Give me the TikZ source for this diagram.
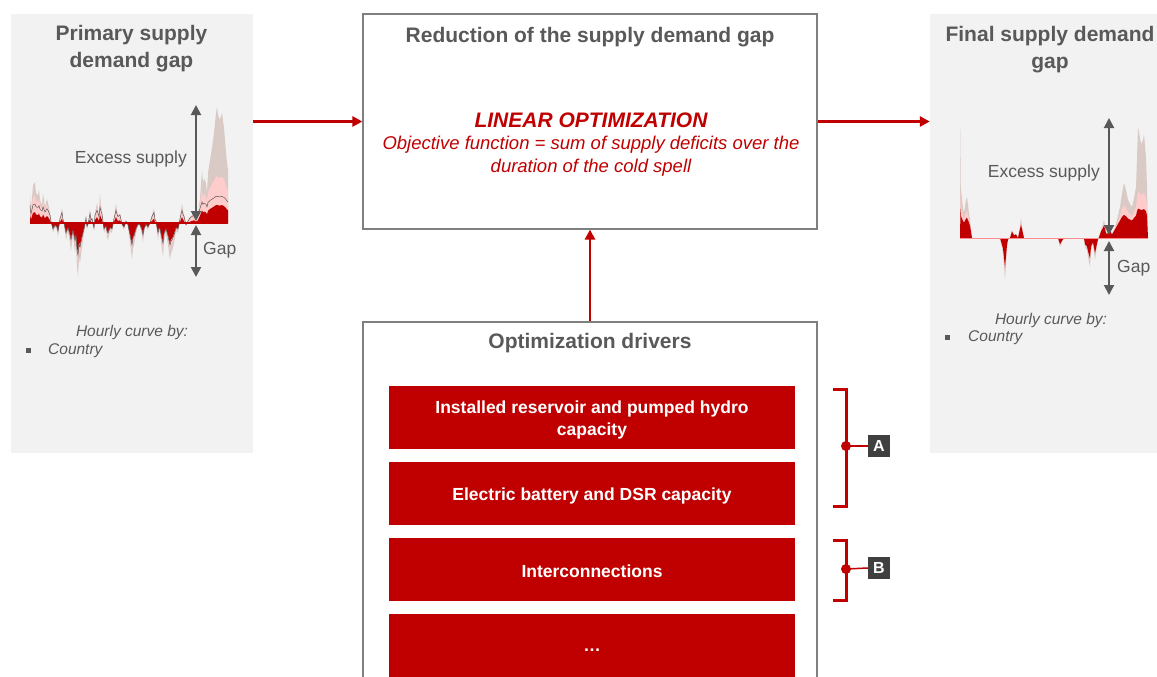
\documentclass[tikz,border=0pt]{standalone}
\usepackage{fontspec}
\setmainfont{Liberation Sans}
\usetikzlibrary{arrows.meta}
\definecolor{dred}{HTML}{C00000}
\definecolor{tgray}{HTML}{595959}
\definecolor{pgray}{HTML}{F2F2F2}
\definecolor{bgray}{HTML}{7F7F7F}
\definecolor{beige}{HTML}{D9CAC6}
\definecolor{lpink}{HTML}{FFCCCC}
\definecolor{lblgray}{HTML}{404040}
\def\leftdata{30/30, 31/12, 33/38, 35/41, 36/30, 38/28, 39/34, 40/23, 42/18, 43/30, 45/16, 47/24, 48/20, 50/10, 51/2, 53/-10, 55/-4, 57/-7, 58/-14, 60/5, 62/15, 63/4, 64/0, 66/-17, 68/-8, 70/-20, 71/-28, 73/-12, 75/-30, 76/-20, 77/-45, 78/-54, 79/-35, 80/-40, 82/-24, 84/-10, 86/6, 87/-6, 88/-2, 90/13, 91/3, 92/5, 94/-8, 95/10, 97/20, 99/8, 100/30, 101/18, 102/12, 104/-10, 106/-5, 107/-14, 108/-17, 110/-8, 112/-10, 114/5, 116/20, 117/12, 118/8, 120/10, 122/-2, 124/-7, 126/2, 128/-3, 129/-12, 130/-20, 132/-37, 133/-25, 134/-22, 136/-10, 138/-2, 140/-3, 142/-12, 143/-20, 144/-10, 146/-2, 148/-7, 150/0, 152/8, 154/15, 155/4, 156/2, 158/-17, 159/-8, 160/-10, 162/-27, 163/-34, 164/-18, 166/-10, 168/-22, 170/-37, 171/-30, 172/-28, 174/-20, 176/-8, 178/-10, 180/5, 182/20, 183/12, 184/8, 186/-3, 188/2, 190/6, 192/8, 194/10, 196/6, 198/10, 200/25, 202/53, 203/40, 204/45, 206/40, 207/30, 208/50, 210/63, 212/75, 214/90, 216/110, 217/116, 218/108, 220/103, 222/110, 224/95, 225/83, 227/60, 228/53}
\def\rightdata{960/0, 960.5/110, 961/48, 963/30, 964/25, 966/38, 967/41, 969/25, 970/18, 972/0, 1000/0, 1001/-5, 1003/-15, 1005/-42, 1007/-10, 1008/-2, 1010/0, 1012/8, 1014/3, 1016/4, 1018/0, 1020/12, 1021/20, 1023/5, 1024/0, 1058/0, 1060/-9, 1062/-4, 1064/0, 1084/0, 1085/-9, 1087/-12, 1088/-19, 1090/-29, 1091/-12, 1093/-6, 1095/-22, 1097/-8, 1098/-2, 1100/4, 1101/8, 1103/14, 1104/18, 1106/6, 1107/4, 1109/10, 1110/8, 1112/4, 1115/11, 1117/18, 1120/31, 1122/45, 1124/55, 1126/48, 1128/38, 1130/34, 1132/31, 1134/40, 1136/51, 1137/80, 1138/111, 1140/100, 1141/94, 1143/98, 1144/104, 1146/80, 1147/51, 1148/0}
\begin{document}
\begin{tikzpicture}[x=1pt,y=-1pt,
  declare function={
    redL(\v)=((\v)<0)*0.55*(\v)+(1-((\v)<0))*(\v)*(\v)*0.6/(8+abs(\v))*45/(45+abs(\v));
    redR(\v)=((\v)<0)*0.7*(\v)+(1-((\v)<0))*(\v)*40/(40+abs(\v));
    pinkf(\v)=((\v)<0)*0.75*(\v)+(1-((\v)<0))*(\v)*80/(80+abs(\v));
    linef(\v)=((\v)<0)*0.6*(\v)+(1-((\v)<0))*(\v)*35/(35+abs(\v));
  },
  panel/.style={fill=pgray, draw=none, inner sep=0pt},
  ttl/.style={text=tgray, font=\fontsize{21}{27}\selectfont\bfseries, align=center, inner sep=0pt},
  frame/.style={draw=bgray, line width=1.2pt, fill=white, inner sep=0pt},
  redbox/.style={fill=dred, draw=none, minimum width=406pt, inner sep=0pt},
  boxtext/.style={text=white, font=\fontsize{17.5}{22}\selectfont\bfseries, align=center, inner sep=0pt, yshift=-2pt},
  rarrow/.style={draw=dred, line width=2.5pt, -{Triangle[length=10pt,width=10pt]}},
  garrow/.style={draw=tgray, line width=2pt, {Triangle[length=10pt,width=10pt]}-{Triangle[length=10pt,width=10pt]}},
  lbl/.style={text=tgray, font=\fontsize{17.5}{21}\selectfont, inner sep=0pt},
  hourly/.style={text=tgray, font=\fontsize{15.5}{19}\selectfont\itshape, inner sep=0pt},
  bul/.style={fill=tgray, minimum size=5pt, inner sep=0pt},
  bracket/.style={draw=dred, line width=3pt},
  letter/.style={fill=lblgray, text=white, font=\fontsize{16}{18}\selectfont\bfseries, minimum width=22pt, minimum height=22pt, inner sep=0pt},
]
\useasboundingbox (0,0) rectangle (1157,677);
\clip (0,0) rectangle (1157,677);

% panels
\node[panel, minimum width=242pt, minimum height=439pt] (left) at (132,233.5) {};
\node[panel, minimum width=230pt, minimum height=439pt] (right) at (1045,233.5) {};
\node[frame, minimum width=454pt, minimum height=215pt] (reduction) at (590,121.5) {};
\node[frame, minimum width=454pt, minimum height=400pt] (drivers) at (590,522) {};

% titles
\node[ttl] (ltitle) at (131.5,48.5) {Primary supply\\demand gap};
\node[ttl] (rtitle) at (1050,50) {Final supply demand\\gap};
\node[ttl] (redtitle) at (590,37) {Reduction of the supply demand gap};
\node[ttl] (drvtitle) at (590,343) {Optimization drivers};

% linear optimization text
\node[text=dred, font=\fontsize{21}{25}\selectfont\bfseries\itshape, inner sep=0pt] (lin) at (591,120) {LINEAR OPTIMIZATION};
\node[text=dred, font=\fontsize{18.5}{23}\selectfont\itshape, align=center, inner sep=0pt] (obj) at (591,156) {Objective function = sum of supply deficits over the\\duration of the cold spell};

% driver boxes
\node[redbox, minimum height=63pt] (d1) at (592,417.5) {};
\node[redbox, minimum height=63pt] (d2) at (592,493.5) {};
\node[redbox, minimum height=63pt] (d3) at (592,569.5) {};
\node[redbox, minimum height=68pt] (d4) at (592,648) {};
\node[boxtext] (t1) at (d1.center) {Installed reservoir and pumped hydro\\capacity};
\node[boxtext] (t2) at (d2.center) {Electric battery and DSR capacity};
\node[boxtext] (t3) at (d3.center) {Interconnections};
\node[boxtext] (t4) at (d4.center) {\dots};

% red arrows
\draw[rarrow] (left.east |- reduction.west) -- (reduction.west);
\draw[rarrow] (reduction.east) -- (right.west |- reduction.east);
\draw[rarrow] (drivers.north) -- (reduction.south);

% brackets
\coordinate (a1) at (833,389);
\coordinate (a2) at (846,389);
\coordinate (a3) at (846,506);
\coordinate (a4) at (833,506);
\coordinate (dotA) at (846,446);
\node[letter] (labA) at (879,446) {A};
\draw[bracket] (a1) -- (a2) -- (a3) -- (a4);
\fill[dred] (dotA) circle (5pt);
\draw[dred, line width=1.5pt] (dotA) -- (labA.west);
\coordinate (b1) at (833,540);
\coordinate (b2) at (846,540);
\coordinate (b3) at (846,600);
\coordinate (b4) at (833,600);
\coordinate (dotB) at (846,569);
\node[letter] (labB) at (879,568) {B};
\draw[bracket] (b1) -- (b2) -- (b3) -- (b4);
\fill[dred] (dotB) circle (5pt);
\draw[dred, line width=1.5pt] (dotB) -- (labB.west);

% left chart
\fill[beige] (30,223) \foreach \x/\v in \leftdata { -- (\x,{223-(\v)}) } -- (228,223) -- cycle;
\fill[lpink] (30,223) \foreach \x/\v in \leftdata { -- (\x,{223-pinkf(\v)}) } -- (228,223) -- cycle;
\fill[dred] (30,223) \foreach \x/\v in \leftdata { -- (\x,{223-redL(\v)}) } -- (228,223) -- cycle;
\draw[black!65, line width=0.5pt] (30,205) \foreach \x/\v in \leftdata { -- (\x,{223-linef(\v)}) };
\draw[dred, line width=1.2pt] (30,223) -- (228,223);

% right chart
\fill[beige] (960,238) \foreach \x/\v in \rightdata { -- (\x,{238-(\v)}) } -- cycle;
\fill[lpink] (960,238) \foreach \x/\v in \rightdata { -- (\x,{238-pinkf(\v)}) } -- cycle;
\fill[dred] (960,238) \foreach \x/\v in \rightdata { -- (\x,{238-redR(\v)}) } -- cycle;
\draw[red!45, line width=1pt] (960,238) -- (1148,238);

% gray arrows
\coordinate (le1) at (196,105);
\coordinate (le2) at (196,221);
\coordinate (lg1) at (196,225);
\coordinate (lg2) at (196,277);
\draw[garrow] (le1) -- (le2);
\draw[garrow] (lg1) -- (lg2);
\coordinate (re1) at (1109,118);
\coordinate (re2) at (1109,235);
\coordinate (rg1) at (1109,241);
\coordinate (rg2) at (1109,295);
\draw[garrow] (re1) -- (re2);
\draw[garrow] (rg1) -- (rg2);

% chart labels
\node[lbl, anchor=east] (lex) at (187,159) {Excess supply};
\node[lbl, anchor=west] (lgap) at (203,250) {Gap};
\node[lbl, anchor=east] (rex) at (1100,173) {Excess supply};
\node[lbl, anchor=west] (rgap) at (1117,268) {Gap};

% hourly
\node[hourly] (lh) at (132,332) {Hourly curve by:};
\node[bul] (lbul) at (28,350) {};
\node[hourly, anchor=west] (lc) at (48,350.5) {Country};
\node[hourly] (rh) at (1051,320) {Hourly curve by:};
\node[bul] (rbul) at (947,337) {};
\node[hourly, anchor=west] (rc) at (968,337.5) {Country};
\end{tikzpicture}
\end{document}
